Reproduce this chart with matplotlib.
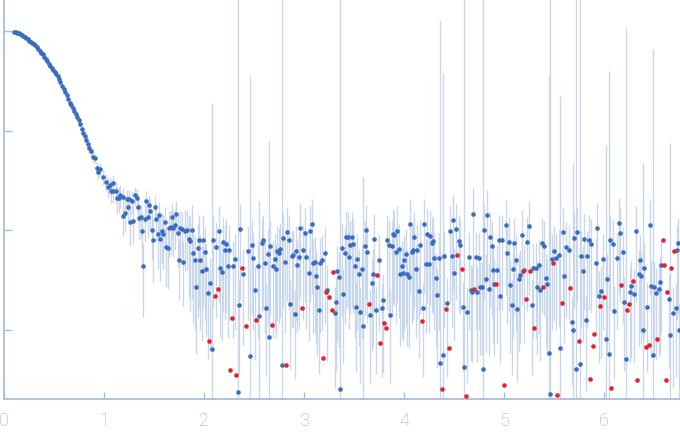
import numpy as np
import matplotlib
matplotlib.use("Agg")
import matplotlib.pyplot as plt
from matplotlib.ticker import FixedLocator, NullLocator, NullFormatter

# scattering vector s (x axis)
q = [
 0.100,0.115,0.130,0.145,0.160,0.175,0.190,0.205,0.220,0.235,0.250,0.265,0.280,0.295,0.310,0.325,0.340,0.355,0.370,0.385,
 0.400,0.415,0.430,0.445,0.460,0.475,0.490,0.505,0.520,0.535,0.550,0.565,0.580,0.595,0.610,0.625,0.640,0.655,0.670,0.685,
 0.700,0.715,0.730,0.745,0.760,0.775,0.790,0.805,0.820,0.835,0.850,0.865,0.887,
 0.910,0.927,0.943,0.960,0.987,1.020,1.043,1.060,1.067,1.087,1.093,1.117,1.127,1.150,1.160,1.187,1.193,1.213,1.227,1.243,
 1.253,1.260,1.283,1.293,1.310,1.327,1.343,1.353,1.367,1.383,1.393,1.413,1.423,1.443,1.453,1.463,1.483,1.493,1.513,1.523,
 1.543,1.553,1.563,1.580,1.593,1.613,1.623,1.643,1.653,1.667,1.683,1.693,1.713,1.723,1.743,1.753,1.760,1.777,1.793,1.810,
 1.827,1.850,
 1.863,1.883,1.893,1.913,1.923,1.943,1.953,1.963,1.983,1.993,2.013,2.023,2.043,2.053,2.063,2.083,2.093,2.113,2.123,2.143,
 2.153,2.163,2.183,2.193,2.213,2.223,2.243,2.253,2.263,2.283,2.293,2.313,2.323,2.343,2.353,2.363,2.383,2.393,2.423,2.443,
 2.463,2.483,2.493,2.513,2.523,2.543,2.553,2.583,2.593,2.613,2.623,2.643,2.653,2.663,2.683,2.693,2.713,2.723,2.733,2.753,
 2.763,2.783,2.793,2.813,2.823,2.833,2.853,2.863,2.883,2.893,2.913,2.923,2.933,2.953,2.963,2.983,2.993,3.013,3.023,3.053,
 3.063,3.083,3.093,3.113,3.123,3.133,3.153,3.163,3.183,3.193,3.213,3.223,3.233,3.253,3.283,3.293,3.313,3.323,3.333,3.353,
 3.363,3.383,3.393,3.413,3.423,3.443,3.453,3.463,3.483,3.493,3.513,3.523,3.533,3.553,3.563,3.583,3.593,3.613,3.623,3.633,
 3.653,3.663,3.683,3.693,3.703,3.723,3.733,3.753,3.763,3.783,3.793,3.803,3.823,3.833,3.853,3.863,3.883,3.893,3.903,3.923,
 3.933,3.953,3.963,3.983,3.993,4.003,4.023,4.033,4.053,4.063,4.083,4.093,4.103,4.123,4.133,4.153,4.163,4.183,4.193,4.203,
 4.223,4.233,4.253,4.263,4.283,4.293,4.303,4.323,4.333,4.353,4.363,4.383,4.393,4.403,4.423,4.433,4.453,4.463,4.483,4.493,
 4.503,4.523,4.533,4.553,4.563,4.583,4.593,4.603,4.623,4.633,4.653,4.667,4.683,4.693,4.703,4.723,4.733,4.753,4.763,4.783,
 4.793,4.803,4.823,4.833,4.853,4.863,4.883,4.893,4.903,4.923,4.933,4.953,4.963,4.983,4.997,5.023,5.033,5.053,5.063,5.083,
 5.093,5.103,5.123,5.133,5.153,5.163,5.183,5.193,5.203,5.223,5.233,5.253,5.263,5.283,5.293,5.303,5.323,5.333,5.353,5.363,
 5.383,5.393,5.403,5.423,5.433,5.453,5.463,5.483,5.493,5.503,5.523,5.533,5.553,5.563,5.583,5.593,5.603,5.623,5.653,5.663,
 5.683,5.693,5.703,5.723,5.733,5.753,5.763,5.773,5.793,5.803,5.823,5.833,5.853,5.863,5.873,5.893,5.903,5.923,5.933,5.953,
 5.963,5.973,5.993,6.003,6.023,6.033,6.053,6.063,6.073,6.093,6.103,6.133,6.153,6.163,6.173,6.193,6.203,6.223,6.233,6.253,
 6.263,6.273,6.293,6.303,6.323,6.333,6.353,6.363,6.373,6.393,6.403,6.423,6.433,6.453,6.463,6.473,6.493,6.503,6.523,6.533,
 6.553,6.563,6.573,6.593,6.603,6.623,6.633,6.653,6.663,6.673,6.693,6.703,6.723,6.733,6.743,6.753,
]

# intensity (negative values are drawn in red as |I|)
intensity = [
 0.977,0.966,0.957,0.946,0.929,0.914,0.893,0.870,0.850,0.823,0.801,0.781,0.760,0.741,0.723,0.689,0.661,0.634,0.608,0.581,
 0.551,0.522,0.496,0.470,0.447,0.425,0.405,0.387,0.369,0.351,0.330,0.306,0.283,0.263,0.245,0.226,0.207,0.191,0.179,0.167,
 0.156,0.146,0.137,0.128,0.115,0.104,0.0950,0.0872,0.0798,0.0731,0.0671,0.0616,0.0546,
 0.0526,0.0417,0.0385,0.0407,0.0343,0.0306,0.0272,0.0283,0.0248,0.0245,0.0295,0.0245,0.0208,0.0208,0.0225,0.0216,0.0138,0.0147,0.0204,0.0169,
 0.0204,0.0119,0.0194,0.0123,0.0223,0.0208,0.0169,0.0131,0.0134,0.00970,0.00435,0.0128,0.0194,0.0136,0.0177,0.0154,0.0100,0.00793,0.0171,0.0128,
 0.00906,0.0141,0.00807,0.00970,0.00906,0.0120,0.00670,0.00655,0.0104,0.0106,0.0134,0.0104,0.0113,0.0144,0.00927,0.00496,0.0104,0.0102,0.00473,0.00984,
 0.0100,0.00807,
 0.00775,0.00993,0.00587,0.00499,0.00267,0.00655,0.00793,0.00499,0.00387,0.00793,0.00601,0.00406,0.00231,-0.000761,0.00291,0.000637,0.00793,-0.00216,0.00670,-0.00255,
 0.00970,0.00415,0.00376,0.00752,0.00625,0.00718,0.00432,0.00625,-0.000389,-0.00131,0.00432,0.00508,-0.000349,0.000235,0.00176,0.0102,-0.00412,0.00359,-0.00108,0.00615,
 0.000542,0.00702,0.00520,0.00249,-0.00124,0.00432,0.00136,0.00740,0.00787,0.00463,0.00164,0.00570,0.000836,0.00686,-0.00111,0.00432,0.00508,0.00403,0.00611,0.00583,
 0.00649,0.000440,0.00826,0.00482,-0.000437,0.00948,0.00787,0.00179,0.00544,0.00557,0.00142,0.00611,0.00442,0.00532,0.0104,-0.00163,0.00625,0.00927,0.00532,0.00367,
 0.00970,0.0114,0.00463,0.00473,0.00343,0.00265,0.00156,0.00463,0.00496,-0.000514,0.00583,-0.00237,0.00248,-0.00211,-0.00156,-0.00376,0.00146,0.00188,0.00385,0.00335,
 0.000251,0.00655,0.00226,0.00583,0.00845,0.00845,0.00532,0.00702,0.00845,0.00718,0.00432,0.00167,0.00508,0.00359,0.00149,0.00403,0.00108,0.00686,0.00993,0.00597,
 -0.00179,0.00139,0.00291,0.00359,0.00807,0.00156,-0.00351,0.00496,-0.000727,0.00163,0.00197,-0.00115,-0.00103,0.00787,0.00702,0.00139,0.00686,0.00906,0.00885,0.00597,
 0.00970,0.00640,0.00359,0.00432,0.00367,0.00496,0.00570,0.00359,0.00335,0.0114,0.00597,0.00625,0.00845,0.00403,0.00625,0.00242,0.00702,-0.00121,0.00163,0.0114,
 0.00452,0.00906,0.00452,0.00865,0.00735,0.00770,0.00520,0.00327,0.00221,0.00520,0.000457,-0.000251,0.000551,0.00544,-0.00160,0.00183,-0.000647,0.00970,0.00544,0.0125,
 0.00367,0.0102,-0.00557,0.00770,0.00702,-0.00403,0.00167,0.000417,-0.000213,0.00149,0.00532,0.00248,0.00237,0.0144,-0.00254,0.00532,0.00237,0.00520,0.00265,0.00265,
 0.000398,0.00993,0.00320,0.0141,0.00254,0.00845,0.00686,0.00394,0.00285,-0.00285,0.00394,0.00787,0.00216,0.00787,-0.000275,0.0111,0.00583,0.00752,0.00278,0.00175,
 0.00403,0.00735,0.00496,0.00160,0.00320,0.00351,0.00885,-0.00385,0.00394,-0.00201,0.00752,0.0109,-0.00385,0.00175,0.00412,-0.00103,0.00412,0.00265,0.00442,0.00248,
 0.00735,-0.00265,0.00686,0.00327,0.00285,0.000577,0.000223,0.00508,-0.00463,0.00611,0.00520,-0.000218,0.00557,0.000647,-0.00183,0.00948,0.00343,0.00670,0.00625,-0.00259,
 0.00118,0.000982,0.00826,0.000398,0.00948,-0.000761,0.000447,0.00544,0.00385,0.00807,0.00124,0.00544,0.00787,-0.000316,0.00718,-0.000678,-0.000895,0.00463,0.0104,0.00216,
 -0.00171,0.00242,0.00508,-0.00211,0.000797,0.00320,0.000564,0.00787,-0.000257,0.00718,0.00152,0.00520,0.0117,0.00927,-0.00278,0.00597,0.00188,0.000501,-0.00156,-0.00179,
 0.00237,0.00272,-0.00305,0.00226,0.00970,-0.000309,0.00359,0.00496,0.00343,0.000982,0.00412,-0.000662,0.00167,-0.000698,0.0111,0.00272,0.000551,0.00265,0.00231,-0.000797,
 0.00254,0.00298,0.00442,-0.00787,-0.00442,-0.000309,-0.00237,0.00201,0.000875,-0.00412,0.00146,-0.00611,0.00163,0.00625,0.00735,0.00100,
]

# standard error of each point (0 = no bar shown)
error = [
 0.008,0.008,0.008,0.008,0.008,0.008,0.008,0.008,0.008,0.008,0.008,0.008,0.008,0.008,0.008,0.008,0.008,0.008,0.008,0.008,
 0.008,0.008,0.007,0.007,0.007,0.007,0.007,0.007,0.007,0.007,0.007,0.007,0.007,0.007,0.007,0.007,0.007,0.007,0.007,0.007,
 0.007,0.007,0.007,0.007,0.007,0.007,0.007,0.007,0.007,0.007,0.007,0.007,0.007,
 0.006,0.006,0.006,0.006,0.006,0.006,0.006,0.006,0.006,0.006,0.006,0.006,0.006,0.006,0.006,0.005,0.005,0.005,0.005,0.005,
 0.005,0.005,0.005,0.005,0.005,0.005,0.005,0.005,0.005,0.005,0.003,0.005,0.005,0.005,0.005,0.005,0.005,0.005,0.005,0.005,
 0.005,0.005,0.005,0.005,0.005,0.005,0.004,0.004,0.005,0.005,0.005,0.005,0.005,0.005,0.005,0.003,0.005,0.005,0.003,0.006,
 0.006,0.006,
 0.0062,0.0079,0.0047,0.0040,0.0021,0.0052,0.0063,0.0040,0.0031,0.0063,0.0048,0.0032,0.0018,0,0.0023,0.19,0.0063,0,0.0054,0,
 0.0078,0.0033,0.0030,0.0060,0.0050,0.0057,0.0035,0.0050,0,0,0.0035,0.0041,0,3.0,0.0014,0.0082,0,0.0029,0,0.0049,
 0.35,0.0056,0.0042,0.0020,0,0.0035,0.018,0.0059,0.0063,0.0037,0.0013,0.0046,0.078,0.0055,0,0.0035,0.0041,0.0032,0.0049,0.0047,
 0.0052,3.0,0.0066,0.0039,0,0.0076,0.0063,0.0014,0.0044,0.0045,0.0011,0.0049,0.0035,0.0043,0.0083,0,0.0050,0.0074,0.0043,0.0029,
 0.0078,0.0091,0.0037,0.0038,0.0027,0.0021,0.0012,0.0037,0.0040,0,0.0047,0,0.0020,0,0,0,0.0012,0.0015,0.0031,0.0027,
 3.0,0.0052,0.0018,0.0047,0.0068,0.0068,0.0043,0.0056,0.0068,0.0057,0.0035,0.0013,0.0041,0.0029,0.0012,0.0032,0.033,0.0055,0.0079,0.0048,
 0,0.0011,0.0023,0.0029,0.0065,0.0012,0,0.0040,0,0.0013,0.0016,0,0,0.0063,0.0056,0.0011,0.0055,0.0072,0.0071,0.0048,
 0.0078,0.0051,0.0029,0.0035,0.0029,0.0040,0.0046,0.0029,0.0027,0.0091,0.0048,0.0050,0.0068,0.0032,0.0050,0.0019,0.0056,0,0.0013,0.0091,
 0.0036,0.0072,0.0036,0.0069,0.0059,0.0062,0.0042,0.0026,0.0018,0.0042,1.26,0,0.377,0.0044,0,0.0015,0,0.0078,0.0044,0.010,
 0.0029,0.0082,0,0.0062,0.0056,0,0.0013,3.0,0,0.0012,0.0043,0.0020,0.0019,0.012,0,0.0043,0.0019,0.0042,0.0021,0.0021,
 3.0,0.0079,0.0026,0.011,0.0020,0.0068,0.0055,0.0032,0.0023,0,0.0032,0.0063,0.0017,0.0063,0,0.0089,0.0047,0.0060,0.0022,0.0014,
 0.0032,0.0059,0.0040,0.0013,0.0026,0.0028,0.0071,0,0.0032,0,0.0060,0.0087,0,0.0014,0.0033,0,0.0033,0.0021,0.0035,0.0020,
 0.0059,0,0.0055,0.0026,0.0023,0.36,3.0,0.0041,0,0.0049,0.0042,0,0.0045,0.22,0,0.0076,0.0027,0.0054,0.0050,0,
 0.0009,0.046,0.0066,3.0,0.0076,0,3.0,0.0044,0.0031,0.0065,0.0010,0.0044,0.0063,0,0.0057,0,0,0.0037,0.0083,0.0017,
 0,0.0019,0.0041,0,0.071,0.0026,0.395,0.0063,0,0.0057,0.0012,0.0042,0.0094,0.0074,0,0.0048,0.0015,1.07,0,0,
 0.0019,0.0022,0,0.0018,0.0078,0,0.0029,0.0040,0.0027,0.046,0.0033,0,0.0013,0,0.0089,0.0022,0.66,0.0021,0.0018,0,
 0.0020,0.0024,0.0035,0,0,0,0,0.0016,0.074,0,0.0012,0,0.0013,0.0050,0.0059,0.0008,
]

x_ticks = [0, 1, 2, 3, 4, 5, 6]
y_ticks = [1e-3, 1e-2, 1e-1, 1e0]

q_arr = np.array(q)
i_arr = np.array(intensity)
e_arr = np.array(error)

fig = plt.figure(figsize=(6.8, 4.37), dpi=100)
ax = fig.add_axes([4 / 680, 38 / 437, 676 / 680, 399 / 437])
ax.set_yscale("log")

axis_col = "#a9bde0"
bar_col = "#c9d7ed"
blue = "#3a6cc0"
red = "#e5222b"

pos = (i_arr > 0)
neg = ~pos
has_bar = pos & (e_arr > 0)
lower = i_arr - e_arr
lower = np.where(lower > 0, lower, 1e-8)
upper = i_arr + e_arr
ax.vlines(q_arr[has_bar], lower[has_bar], upper[has_bar], colors=bar_col,
          linewidth=0.95, zorder=1)
ax.plot(q_arr[pos], i_arr[pos], "o", ms=3.3, color=blue, mec="none", zorder=3)
ax.plot(q_arr[neg], np.abs(i_arr[neg]), "o", ms=3.3, color=red, mec="none", zorder=3)

ax.set_xlim(0, 6.76)
ax.set_ylim(10 ** (-368 / 99.5), 10 ** (31 / 99.5))

for s in ("top", "right"):
    ax.spines[s].set_visible(False)
for s in ("left", "bottom"):
    ax.spines[s].set_color(axis_col)
    ax.spines[s].set_linewidth(1.3)

ax.xaxis.set_major_locator(FixedLocator(x_ticks))
ax.xaxis.set_minor_locator(NullLocator())
ax.yaxis.set_major_locator(FixedLocator(y_ticks))
ax.yaxis.set_minor_locator(NullLocator())
ax.yaxis.set_major_formatter(NullFormatter())
ax.yaxis.set_minor_formatter(NullFormatter())
ax.set_xticklabels([str(t) for t in x_ticks], family=["Roboto", "DejaVu Sans"],
                   fontweight="light")
ax.tick_params(axis="x", direction="in", length=5, width=1, color=axis_col,
               labelcolor="#97add8", labelsize=13, pad=9)
ax.tick_params(axis="y", direction="in", length=6, width=1, color=axis_col)

fig.savefig("out.png", dpi=100)
